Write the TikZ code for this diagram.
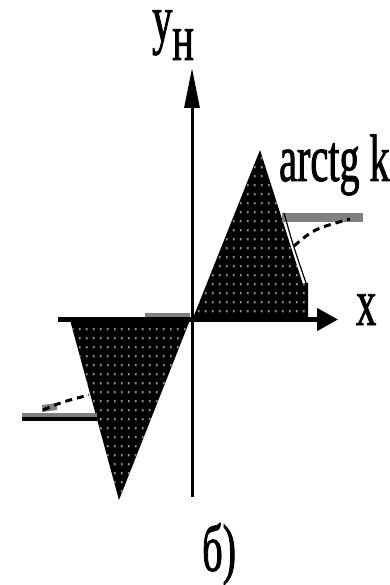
\documentclass[tikz,border=0pt]{standalone}
\usepackage{fontspec}
\newfontfamily\scanfont[FakeStretch=0.6, FakeBold=1.2]{Liberation Serif}
\usetikzlibrary{arrows.meta, patterns.meta}
\definecolor{bargray}{RGB}{128,128,128}
\definecolor{dotgray}{RGB}{140,140,140}

\tikzdeclarepattern{
  name=halftone,
  type=uncolored,
  bottom left={(0pt,0pt)},
  top right={(7pt,9pt)},
  tile size={(7pt,9pt)},
  code={\fill (2pt,3pt) rectangle (4pt,5.5pt);}
}

\begin{document}
\begin{tikzpicture}[x=1pt, y=-1pt,
    lbl/.style={font={\scanfont\fontsize{67}{70}\selectfont}, inner sep=0pt, anchor=base west},
    wedge/.style={fill=black, postaction={pattern=halftone, pattern color=dotgray}},
    dashcurve/.style={line width=3pt, dash pattern=on 7pt off 5pt}]
    \useasboundingbox (0,0) rectangle (389,585);
    \fill[wedge] (193,318) -- (260,150) -- (302.5,283) -- (308,283) -- (308,318) -- cycle;
    \fill[wedge] (70,320) -- (190,320) -- (119,500) -- cycle;
    \fill[bargray] (282,213) rectangle (363,222);
    \draw[line width=1.2pt] (284,213) .. controls (293,245) .. (306,283);
    \draw[dashcurve] (294,246) .. controls (314,229) .. (350,219);
    \fill[bargray] (145,312.5) rectangle (190,317);
    \fill[bargray] (22,412.5) rectangle (97,417);
    \draw[line width=4pt] (22,419) -- (97,419);
    \fill[bargray] (42,405) -- (57,403) -- (57,410) -- (42,412) -- cycle;
    \draw[dashcurve] (43,410) .. controls (62,402) .. (89,395);
    \coordinate (ybot) at (192,497);
    \coordinate (ytip) at (192,68);
    \coordinate (xleft) at (58,319.5);
    \coordinate (xtip) at (338,319.5);
    \draw[line width=3pt, -{Triangle[length=40pt,width=15pt]}] (ybot) -- (ytip);
    \draw[line width=4.5pt, -{Triangle[length=21pt,width=22pt]}] (xleft) -- (xtip);
    \node[lbl] (ylab) at (152,41) {y\raisebox{-19pt}{н}};
    \node[lbl] (xlab) at (356,325) {x};
    \node[lbl] (klab) at (279,181) {arctg k};
    \node[lbl] (cap) at (202,571) {б)};
\end{tikzpicture}
\end{document}
